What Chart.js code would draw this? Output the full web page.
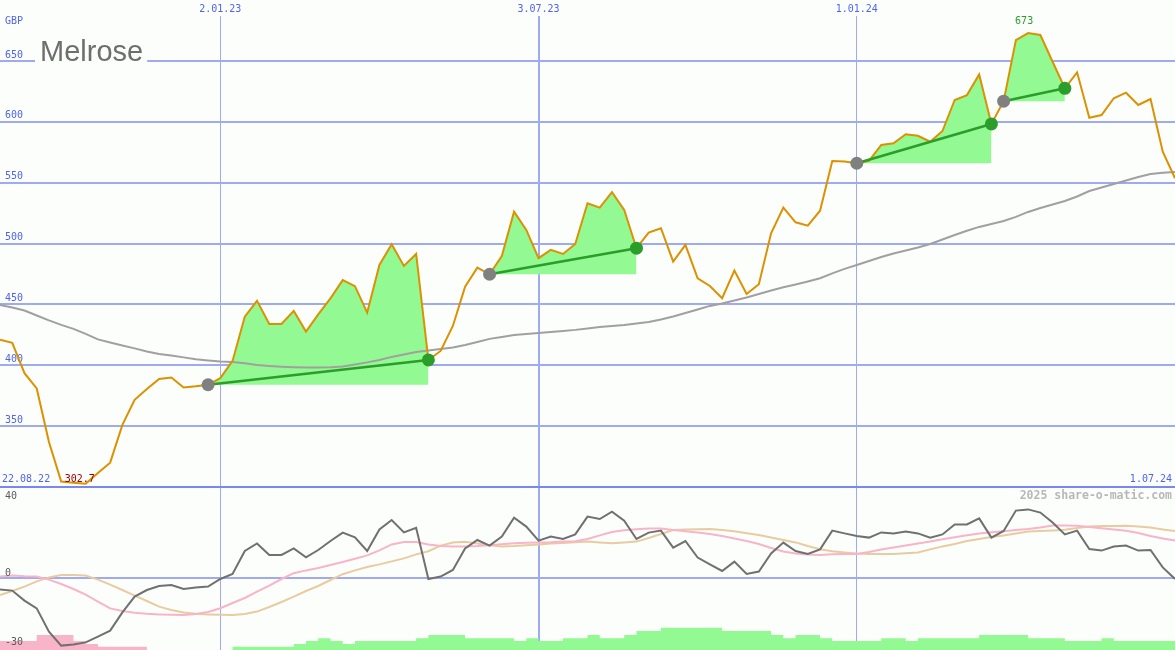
<!DOCTYPE html>
<html>
<head>
<meta charset="utf-8">
<script src="https://cdn.jsdelivr.net/npm/chart.js@4.4.1/dist/chart.umd.min.js"></script>
<style>
  body { margin: 0; background: #fcfefc; }
  #wrap { position: relative; width: 1175px; height: 650px; overflow: hidden; }
  #price { position: absolute; left: 0; top: 0; }
  #osc { position: absolute; left: 0; top: 488px; }
</style>
</head>
<body>
<div id="wrap">
  <canvas id="price" width="1175" height="488"></canvas>
  <canvas id="osc" width="1175" height="162"></canvas>
</div>
<script>
// --- data (weekly closes, index 0 = first week) ---
const title = 'Melrose';
const currency = 'GBP';
const firstDate = '22.08.22';
const lastDate = '1.07.24';
const watermark = '2025 share-o-matic.com';

const gridWeeks = [18, 44, 70];
const gridDates = ['2.01.23', '3.07.23', '1.01.24'];
const priceTicks = [300, 350, 400, 450, 500, 550, 600, 650];
const oscTicks = [40, 0, -30];

const price = [
  421, 418.4, 393.5, 381, 337, 304.5, 303.5, 302.7, 311.5, 320,
  351, 371.6, 380.6, 388.8, 389.9, 381.7, 382.7, 384, 389.4, 403.6,
  440, 453, 434, 434, 444.7, 427.7, 441.8, 455, 470, 465,
  443.3, 482.4, 499.4, 481.6, 491.5, 404.4, 411.8, 432.3, 464.6, 480.2,
  474.8, 489.8, 526.2, 511.2, 488, 494.8, 491.5, 499.7, 533.1, 529.5,
  542.2, 527.6, 496.2, 509, 512.6, 485.2, 498.9, 471.5, 465.2, 455.1,
  477.8, 458.6, 466.6, 508.5, 529.5, 517.5, 514.7, 527, 567.9, 567.5,
  566, 568, 581, 582.4, 589.8, 588.6, 583.7, 592.5, 618, 622,
  639, 598.3, 617, 667.2, 673, 671.4, 649.4, 627.6, 640.7, 603.4,
  605.6, 619.4, 624, 613.9, 618.8, 575.5, 553.7
];

const avg = [
  449.6, 447.5, 445, 440.9, 436.9, 433.2, 429.9, 425.8, 421.3, 418.8,
  416.3, 413.9, 411.4, 409.3, 408.1, 406.5, 405, 404, 403.2, 402.8,
  401.6, 400.3, 399.5, 398.9, 398.4, 398.1, 398.1, 398.3, 399.1, 400.7,
  402.4, 404.4, 406.9, 408.9, 411, 412.2, 413.4, 414.7, 416.7, 419.2,
  421.7, 423.3, 424.9, 425.8, 426.6, 427.4, 428.2, 429.1, 430.3, 431.5,
  432.3, 433.2, 434.4, 435.6, 437.7, 440.1, 443, 445.9, 448.8, 450.8,
  453.3, 455.7, 458.6, 461.5, 464.1, 466.4, 468.9, 471.5, 475.5, 479.2,
  482.4, 485.7, 489, 491.9, 494.3, 496.8, 499.7, 503.4, 507.1, 510.6,
  513.7, 516.1, 518.6, 521.9, 526, 529.3, 532.1, 535, 538.7, 543.2,
  546.1, 549, 551.8, 554.7, 557.2, 558.2, 558.8
];

// buy signal windows (start week, end week)
const sigStart = [17, 40, 70, 82];
const sigEnd = [35, 52, 81, 87];

const osc = [
  -5.7, -6.3, -11.3, -15.2, -26.8, -33.8, -33.2, -32.2, -29.3, -26.3,
  -17.2, -9.3, -6, -4, -3.5, -5.5, -4.7, -4.3, -0.5, 2,
  13.5, 17.3, 11.5, 11.5, 14.8, 10.3, 14, 18.5, 22.7, 20.3,
  13.5, 24.3, 29, 22.8, 25.1, -0.5, 0.7, 4, 14.8, 19,
  16.2, 20.7, 30.2, 25.7, 18.7, 20.7, 19.5, 21.8, 30.7, 29.5,
  33.2, 28.7, 19.5, 22.7, 23.7, 15.2, 18.5, 10.2, 6.8, 3.5,
  8.2, 2, 3.2, 12.3, 17.7, 13.5, 12, 14.3, 23.7, 22.3,
  21, 20.2, 22.8, 22.3, 23.2, 22.3, 20.2, 21.8, 26.8, 26.8,
  29.8, 20.2, 23.5, 33.7, 34.3, 32.7, 27.7, 21.8, 23.7, 14.5,
  13.7, 15.7, 16.2, 13.7, 14, 5.3, -0.5
];

const oscFast = [
  0.7, 1.3, 0.9, 0.7, -0.8, -3, -5.5, -8.3, -11.8, -15.2,
  -16.5, -17.4, -17.9, -18.2, -18.4, -18.5, -18, -17, -15.1, -12.5,
  -10, -6.8, -3.8, -0.5, 2.4, 3.8, 5, 6.5, 8, 9.6,
  11.3, 13.8, 16.8, 18, 18, 16.8, 16, 15.7, 15.8, 16,
  16.4, 16.9, 17.4, 17.6, 17.8, 17.9, 18.2, 18.4, 19.5, 21.3,
  23, 23.9, 24.4, 24.8, 24.8, 24, 23.4, 22.7, 22, 21,
  19.8, 18.5, 17, 15, 13.3, 12.3, 11.8, 11.5, 11.9, 12,
  12, 13, 14.2, 15.3, 16.3, 17.3, 18.3, 19.4, 20.4, 21.4,
  22.3, 22.9, 23.4, 24, 24.5, 25.3, 26.2, 26.2, 26.1, 25.5,
  24.9, 24.3, 23.6, 22.5, 21, 19.8, 18.7
];

const oscSlow = [
  -8.5, -6.5, -4.3, -1.7, 0.3, 1.5, 1.5, 1.2, -0.8, -3.3,
  -6, -8.8, -11.5, -14.3, -16, -17.3, -17.9, -18.2, -18.4, -18.5,
  -18, -16.8, -14.5, -12, -9.3, -6.5, -4, -1, 1.9, 3.8,
  5.5, 6.8, 8.3, 9.8, 11.8, 13.4, 16.2, 17.7, 18.1, 17.3,
  16.4, 15.8, 16, 16.4, 16.8, 17.2, 17.5, 17.9, 18.2, 17.8,
  17.4, 17.8, 18.2, 20, 22, 24, 24.3, 24.4, 24.5, 24,
  23.4, 22.4, 21.5, 20.3, 19, 17.8, 16, 14.4, 13.4, 12.8,
  12.3, 12, 12, 12, 12.4, 12.8, 14.3, 15.8, 17, 18.5,
  19.5, 20.5, 21.3, 22.2, 23.2, 23.5, 23.8, 24.1, 25, 25.8,
  26, 26, 26.1, 25.8, 25.2, 24.3, 23.5
];

const volDown = [3, 3, 3, 3, 5, 5, 5, 3, 2, 1.1, 1.1, 1.1];
const volUp = [
  0, 0, 0, 0, 0, 0, 0, 0, 0, 0,
  0, 0, 0, 0, 0, 0, 0, 0, 0, 0,
  1.1, 1.1, 1.1, 1.1, 1.1, 2, 3, 3.9, 3, 2,
  3, 3, 3, 3, 3, 3.9, 5, 5, 5, 3.9,
  3.9, 3.9, 3.9, 3, 3.9, 3, 3, 3.9, 3.9, 5,
  3.9, 3.9, 5, 6.3, 6.3, 7.4, 7.4, 7.4, 7.4, 7.4,
  6.3, 6.3, 6.3, 6.3, 5, 3.9, 5, 5, 3.9, 3,
  3, 3, 3, 3.9, 3.9, 3, 3.9, 3.9, 3.9, 3.9,
  3.9, 5, 5, 5, 5, 3.9, 3.9, 3.9, 3, 3,
  3, 3.9, 3, 3, 3, 3
];

// --- styling ---
const BG = '#fcfefc';
const GRID = '#a0aaf0';
const AXIS_BLUE = '#4f63ee';
const MONO = '"DejaVu Sans Mono", monospace';
const GREEN_FILL = '#93f993';
const GREEN_DARK = '#2a9d2a';
const NONE = 'rgba(0,0,0,0)';

const xy = arr => arr.map((v, i) => ({ x: i, y: v }));
const steps = arr => xy(arr).concat([{ x: arr.length, y: arr[arr.length - 1] }]);

function setWeekTicks(scale) {
  scale.ticks = gridWeeks.map(v => ({ value: v }));
}

// --- Price panel ---

const fillSets = sigStart.map((s, k) => ({
  data: xy(price).slice(s, sigEnd[k] + 1),
  borderColor: NONE,
  borderWidth: 0,
  pointRadius: 0,
  backgroundColor: GREEN_FILL,
  fill: { value: price[s] },
  order: 3,
}));

const trendSets = sigStart.map((s, k) => ({
  data: [{ x: s, y: price[s] }, { x: sigEnd[k], y: price[sigEnd[k]] }],
  borderColor: GREEN_DARK,
  borderWidth: 2.5,
  pointRadius: 6.5,
  pointBorderWidth: 0,
  pointBackgroundColor: ['#808080', GREEN_DARK],
  order: 0,
}));

const priceText = {
  id: 'priceText',
  afterDraw(chart) {
    const { ctx } = chart;
    const { x, y } = chart.scales;
    ctx.save();
    // title with a background box that breaks the grid line
    ctx.font = '29px "Liberation Sans", Arial, sans-serif';
    const tw = ctx.measureText(title).width;
    ctx.fillStyle = BG;
    ctx.fillRect(35, 36, tw + 9, 30);
    ctx.fillStyle = '#6e6e6e';
    ctx.textBaseline = 'alphabetic';
    ctx.fillText(title, 40, 61);

    ctx.font = '10px ' + MONO;
    ctx.textBaseline = 'middle';
    ctx.fillStyle = AXIS_BLUE;
    ctx.fillText(currency, 5, 21);
    ctx.fillText(firstDate, 2, 479);
    ctx.textAlign = 'right';
    ctx.fillText(lastDate, 1172, 479);

    // extremes
    const lo = Math.min(...price);
    const hi = Math.max(...price);
    const iLo = price.indexOf(lo);
    const iHi = price.indexOf(hi);
    ctx.textAlign = 'center';
    ctx.fillStyle = '#a00000';
    ctx.fillText(String(lo), x.getPixelForValue(iLo) - 6, y.getPixelForValue(lo) - 4);
    ctx.fillStyle = GREEN_DARK;
    ctx.fillText(String(hi), x.getPixelForValue(iHi) - 4, y.getPixelForValue(hi) - 12);
    ctx.restore();
  },
};

new Chart(document.getElementById('price'), {
  type: 'line',
  data: {
    datasets: [
      ...trendSets,
      {
        data: xy(price),
        borderColor: '#dc9100',
        borderWidth: 2,
        pointRadius: 0,
        fill: false,
        order: 1,
      },
      {
        data: xy(avg),
        borderColor: '#a0a0a0',
        borderWidth: 2,
        pointRadius: 0,
        fill: false,
        order: 2,
      },
      ...fillSets,
    ],
  },
  options: {
    responsive: false,
    animation: false,
    devicePixelRatio: 1,
    layout: { autoPadding: false, padding: { left: 0, right: 0, top: 0, bottom: 1 } },
    plugins: { legend: { display: false }, tooltip: { enabled: false } },
    scales: {
      x: {
        type: 'linear',
        position: 'top',
        min: 0,
        max: price.length - 1,
        border: { display: false },
        grid: {
          color: GRID,
          drawTicks: false,
          lineWidth: (c) => (c.tick && c.tick.value === 44 ? 2 : 1),
        },
        afterBuildTicks: setWeekTicks,
        afterFit: (s) => { s.height = 16; s.paddingLeft = 0; s.paddingRight = 0; },
        ticks: {
          autoSkip: false,
          maxRotation: 0,
          padding: 1,
          color: AXIS_BLUE,
          font: { family: 'DejaVu Sans Mono', size: 10 },
          callback: (v) => gridDates[gridWeeks.indexOf(v)],
        },
      },
      y: {
        min: 300,
        max: 687,
        border: { display: false },
        grid: {
          drawTicks: false,
          lineWidth: 2,
          color: (c) => (c.tick && c.tick.value === 300 ? '#7888f0' : GRID),
        },
        afterBuildTicks: (s) => { s.ticks = priceTicks.map(v => ({ value: v })); },
        afterFit: (s) => { s.width = 0; s.paddingTop = 0; s.paddingBottom = 0; },
        ticks: {
          mirror: true,
          padding: 5,
          labelOffset: -6,
          color: AXIS_BLUE,
          font: { family: 'DejaVu Sans Mono', size: 10 },
          callback: (v) => (v === priceTicks[0] ? '' : String(v)),
        },
      },
    },
  },
  plugins: [priceText],
});

// --- Oscillator panel ---

const oscText = {
  id: 'oscText',
  afterDraw(chart) {
    const { ctx } = chart;
    const y = chart.scales.y;
    const shift = [-2, -5, 4];
    ctx.save();
    ctx.font = '10px ' + MONO;
    ctx.textBaseline = 'middle';
    ctx.fillStyle = '#5a5a5a';
    oscTicks.forEach((v, k) => ctx.fillText(String(v), 5, y.getPixelForValue(v) + shift[k]));
    ctx.font = 'bold 11.5px ' + MONO;
    ctx.fillStyle = '#b8b8b8';
    ctx.textAlign = 'right';
    ctx.fillText(watermark, 1172, 8);
    ctx.restore();
  },
};

new Chart(document.getElementById('osc'), {
  type: 'line',
  data: {
    datasets: [
      { data: xy(osc), borderColor: '#707070', borderWidth: 2, pointRadius: 0, order: 0 },
      { data: xy(oscFast), borderColor: '#f8b4c8', borderWidth: 2, pointRadius: 0, order: 1 },
      { data: xy(oscSlow), borderColor: '#e8cca0', borderWidth: 2, pointRadius: 0, order: 2 },
      {
        data: steps(volDown), yAxisID: 'yv', stepped: 'after',
        borderColor: NONE, borderWidth: 0, pointRadius: 0,
        backgroundColor: '#f8b4c8', fill: 'origin', order: 3,
      },
      {
        data: steps(volUp), yAxisID: 'yv', stepped: 'after',
        borderColor: NONE, borderWidth: 0, pointRadius: 0,
        backgroundColor: GREEN_FILL, fill: 'origin', order: 3,
      },
    ],
  },
  options: {
    responsive: false,
    animation: false,
    devicePixelRatio: 1,
    layout: { autoPadding: false, padding: 0 },
    plugins: { legend: { display: false }, tooltip: { enabled: false } },
    scales: {
      x: {
        type: 'linear',
        min: 0,
        max: osc.length - 1,
        border: { display: false },
        grid: {
          color: GRID,
          drawTicks: false,
          lineWidth: (c) => (c.tick && c.tick.value === 44 ? 2 : 1),
        },
        afterBuildTicks: setWeekTicks,
        afterFit: (s) => { s.height = 0; s.paddingLeft = 0; s.paddingRight = 0; },
        ticks: { display: false },
      },
      y: {
        min: -36,
        max: 45,
        border: { display: false },
        grid: { color: GRID, lineWidth: 2, drawTicks: false },
        afterBuildTicks: (s) => { s.ticks = [{ value: 0 }]; },
        afterFit: (s) => { s.width = 0; s.paddingTop = 0; s.paddingBottom = 0; },
        ticks: { display: false },
      },
      yv: { min: 0, max: 54, display: false },
    },
  },
  plugins: [oscText],
});
</script>
</body>
</html>
